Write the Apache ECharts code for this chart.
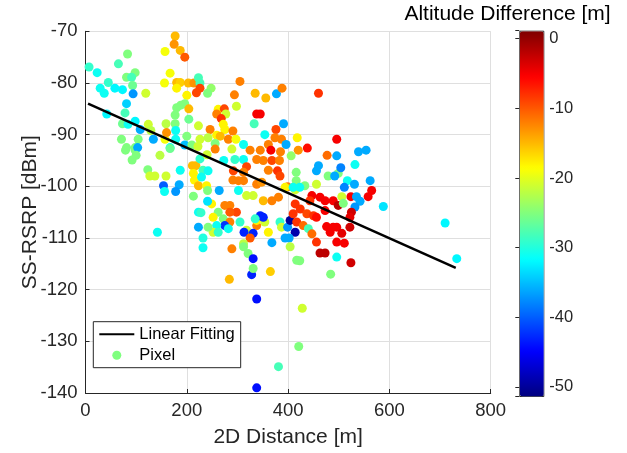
<!DOCTYPE html>
<html><head><meta charset="utf-8">
<script src="https://cdn.jsdelivr.net/npm/echarts@6/dist/echarts.min.js"></script>
<style>html,body{margin:0;padding:0;background:#fff}#c{width:627px;height:453px}</style>
</head><body><div id="c"></div>
<script>
// 2D distance [m]
const distance = [
  7,23,65,83,98,81,91,93,29,45,
  37,58,73,94,119,81,78,42,98,73,
  84,108,124,129,134,71,104,81,98,157,
  159,177,178,160,178,167,177,175,187,196,
  157,167,156,180,187,203,214,180,223,226,
  226,219,248,241,200,196,188,204,180,177,
  204,223,246,200,226,242,196,210,222,
  305,294,335,356,377,388,460,298,262,274,
  259,277,268,272,275,338,345,333,391,376,
  354,418,291,259,266,282,297,256,312,361,
  374,387,396,496,
  256,289,325,345,366,385,420,438,477,273,
  295,312,338,351,368,383,406,460,456,479,
  499,318,292,312,291,302,312,338,348,361,
  379,384,416,416,414,433,456,447,463,473,
  489,499,473,443,399,394,410,423,381,264,
  302,318,331,351,368,249,275,285,298,285,
  262,252,272,285,275,259,252,262,282,305,
  318,338,338,354,361,345,351,335,313,331,
  325,312,312,289,321,331,368,384,387,399,
  404,414,394,402,404,417,423,414,424,437,
  450,456,410,417,430,440,447,456,463,473,
  476,489,483,
  79,98,103,92,100,147,167,123,127,137,
  159,187,154,156,185,178,142,211,218,213,
  215,223,232,229,242,239,241,213,241,223,
  228,242,223,232,232,226,240,
  496,539,554,504,532,517,531,562,511,492,
  588,710,733,565,558,524,506,509,535,542,
  532,525,522,496,506,522,496,511,496,524,
  284,328,331,365,338,381,338,421,428,484
];
// SS-RSRP [dBm]
const rsrp = [
  -76.9,-78,-76.3,-74.4,-78,-78.9,-78.9,-80.5,-81,-79.9,
  -82,-81,-81.3,-82.1,-82,-84,-85.8,-86,-87.4,-87.9,
  -88,-89,-88,-89.2,-90.9,-90.9,-90.9,-92.5,-92.5,-90.9,
  -87.9,-87.9,-89.2,-89.6,-90.9,-92.5,-70.9,-72.5,-73.7,-75,
  -73.9,-78.1,-80,-79.9,-79.9,-80,-80,-81,-79,-80,
  -81,-81.9,-81,-82,-82.4,-84,-84.3,-85,-84.8,-86.2,
  -87,-88.3,-89,-90.3,-90.9,-90.6,-92,-92,-92.3,
  -79.7,-82.3,-82,-82.9,-82.1,-81,-82,-84.5,-85.1,-85,
  -86,-86,-86.9,-88,-89,-86,-86,-87.9,-87.9,-89,
  -90,-90.6,-89.3,-90.1,-90.3,-90.9,-90.9,-91.7,-91.9,-91.9,
  -90.6,-90.9,-91.9,-90.9,
  -92.8,-92.8,-93,-93,-93,-93.3,-93,-92.6,-94,-95,
  -94.8,-94.8,-94.8,-95,-95,-95,-94.1,-96,-97,-98,
  -97.5,-96.2,-97,-97.3,-98.8,-98.9,-98.9,-99.6,-99.2,-96.9,
  -97,-98,-97.3,-98.9,-100.7,-99.9,-99.6,-101.8,-102.1,-102.8,
  -102.8,-103.7,-104.7,-102.8,-100.1,-100.2,-100.2,-100.2,-102.1,-100.8,
  -100.8,-101.8,-101.8,-102.8,-102.8,-103.4,-103.7,-103.7,-105,-105,
  -105,-106,-106.3,-106.9,-107.6,-107.6,-108.9,-108.9,-108.2,-106.9,
  -108.5,-107.6,-106.6,-106.9,-108.9,-105.7,-106,-106.3,-108.9,-109.1,
  -110,-111.1,-111.7,-112.1,-113,-114,-110.9,-106.9,-107.9,-107.9,
  -106.6,-108.9,-110,-110,-111.7,-114.3,-114.4,-103.4,-104.4,-105.3,
  -105.7,-106,-105.3,-106.9,-107.6,-108.2,-109.2,-110.8,-112.9,-112.9,
  -107.8,-107.9,-108.9,
  -93,-93,-92.5,-94.9,-94,-94,-92.7,-96.8,-98,-98,
  -98,-96.9,-99.9,-101,-99.7,-101,-108.9,-96,-96,-97.5,
  -98.8,-99.9,-96.9,-98.2,-97,-99.9,-100.8,-101.9,-102.9,-105,
  -105.1,-107.9,-107.9,-110,-111.9,-94.7,-93.9,
  -94.1,-93.3,-93,-96.4,-95.8,-98.9,-99.6,-98.9,-100.2,-98,
  -103.9,-107.1,-114,-100.8,-102,-102,-102,-103.3,-102,-102.9,
  -104,-105,-106,-107.9,-109.1,-107.9,-110.8,-111,-113.7,-114.8,
  -118,-117.1,-115.9,-116.5,-121.8,-134.9,-139,-131,-123.6,-117
];
// Altitude difference [m]
const altDiff = [
  -29,-31,-28,-25,-25,-25,-28,-26,-31,-29,
  -31,-32,-32,-37,-21,-34,-28,-32,-32,-26,
  -31,-36,-21,-22,-36,-25,-25,-25,-25,-19,
  -22,-25,-31,-13,-31,-31,-15,-13,-15,-10,
  -19,-19,-19,-15,-16,-15,-13,-18,-28,-28,
  -9,-9,-24,-25,-18,-25,-25,-15,-25,-25,
  -26,-21,-12,-25,-21,-22,-35,-25,-21,
  -12,-12,-15,-15,-36,-12,-8,-21,-18,-9,
  -12,-21,-8,-18,-18,-5,-5,-28,-36,-9,
  -31,-18,-12,-18,-15,-12,-19,-25,-31,-12,
  -12,-12,-36,-5,
  -12,-21,-12,-12,-5,-12,-13,-6,-11,-31,
  -29,-31,-12,-12,-9,-12,-24,-36,-36,-25,
  -25,-9,-9,-12,-12,-12,-12,-12,-13,-12,
  -8,-9,-25,-25,-21,-25,-21,-5,-5,-5,
  -5,-2,-5,-8,-12,-18,-31,-31,-12,-36,
  -31,-21,-21,-15,-12,-18,-12,-12,-9,-10,
  -25,-18,-25,-12,-42,-31,-21,-29,-31,-29,
  -21,-12,-18,-21,-18,-43,-43,-29,-43,-43,
  -10,-22,-25,-12,-25,-44,-36,-29,-21,-37,
  -50,-49,-36,-36,-22,-25,-25,-8,-8,-9,
  -8,-6,-8,-8,-11,-28,-11,-8,-2,-2,
  -5,-5,-5,
  -25,-25,-36,-25,-25,-22,-26,-25,-21,-21,
  -21,-31,-40,-31,-36,-37,-31,-15,-15,-18,
  -18,-15,-28,-31,-31,-18,-25,-25,-33,-31,
  -29,-25,-36,-30,-31,-29,-21,
  -36,-36,-36,-38,-31,-31,-36,-36,-38,-36,
  -33,-32,-32,-5,-5,-5,-21,-25,-36,-36,
  -37,-3,-4,-5,-4,-3,-5,-5,-31,-3,
  -15,-43,-25,-16,-44,-28,-44,-25,-21,-25
];
// Linear fit end points
const fitX = [5, 731];
const fitY = [-84.0, -115.8];
// Colour scale range of the colorbar
const cMin = -51.3, cMax = 1.15;

const FONT = "'Liberation Sans', Arial, Helvetica, sans-serif";
const jet = ['#00007F','#0000FF','#007FFF','#00FFFF','#7FFF7F','#FFFF00','#FF7F00','#FF0000','#7F0000'];
const points = distance.map((d, i) => [d, rsrp[i], altDiff[i]]);
const fitData = fitX.map((x, i) => [x, fitY[i]]);
const AX = '#262626';

const chart = echarts.init(document.getElementById('c'), null, {renderer: 'canvas'});
chart.setOption({
  animation: false,
  backgroundColor: '#fff',
  textStyle: {fontFamily: FONT},
  title: {
    text: 'Altitude Difference [m]', left: 507.5, textAlign: 'center', top: 4, padding: 0,
    textStyle: {fontSize: 21, fontWeight: 'normal', color: '#000', fontFamily: FONT}
  },
  grid: [
    {left: 85.5, top: 31.3, width: 405.2, height: 364},
    {left: 519.3, top: 30.7, width: 24, height: 365.3}
  ],
  xAxis: [
    {
      type: 'value', gridIndex: 0, min: 0, max: 800, interval: 200,
      name: '2D Distance [m]', nameLocation: 'middle', nameGap: 34, nameMoveOverlap: false,
      nameTextStyle: {fontSize: 21, color: AX, fontFamily: FONT},
      axisLine: {show: true, onZero: false, lineStyle: {color: AX, width: 1}},
      axisTick: {show: true, inside: true, length: 4, lineStyle: {color: AX}},
      axisLabel: {fontSize: 18.5, color: AX, margin: 8, fontFamily: FONT},
      splitLine: {show: true, lineStyle: {color: '#dfdfdf', width: 1}}
    },
    {type: 'value', gridIndex: 1, show: false, min: 0, max: 1}
  ],
  yAxis: [
    {
      type: 'value', gridIndex: 0, min: -140, max: -70, interval: 10,
      name: 'SS-RSRP [dBm]', nameLocation: 'middle', nameGap: 45, nameRotate: 90, nameMoveOverlap: false,
      nameTextStyle: {fontSize: 21, color: AX, fontFamily: FONT},
      axisLine: {show: true, onZero: false, lineStyle: {color: AX, width: 1}},
      axisTick: {show: true, inside: true, length: 4, lineStyle: {color: AX}},
      axisLabel: {fontSize: 18.5, color: AX, margin: 8, fontFamily: FONT},
      splitLine: {show: true, lineStyle: {color: '#dfdfdf', width: 1}}
    },
    {
      type: 'value', gridIndex: 1, position: 'right', min: cMin, max: cMax,
      axisLine: {show: false},
      axisTick: {show: true, inside: true, length: 4, lineStyle: {color: AX}},
      axisLabel: {
        fontSize: 16.5, color: AX, margin: 6, fontFamily: FONT,
        formatter: v => (Math.abs(v - Math.round(v / 10) * 10) < 1e-6 ? String(Math.round(v)) : '')
      },
      splitLine: {show: false}
    }
  ],
  visualMap: {
    type: 'continuous', seriesIndex: 0, dimension: 2, min: cMin, max: cMax,
    inRange: {color: jet}, orient: 'vertical',
    left: 519.3, top: 30.7, itemWidth: 24, itemHeight: 365.3, padding: 0,
    calculable: false, hoverLink: false,
    borderColor: AX, borderWidth: 1
  },
  legend: {
    left: 93.3, top: 321.7, orient: 'vertical',
    padding: [4, 6, 4, 5], itemGap: 4, itemWidth: 35, itemHeight: 9,
    borderColor: AX, borderWidth: 1, backgroundColor: '#fff',
    selectedMode: false,
    textStyle: {fontSize: 16.5, color: '#000', fontFamily: FONT},
    data: [
      {name: 'Linear Fitting', itemStyle: {color: 'rgba(0,0,0,0)', borderColor: 'rgba(0,0,0,0)', borderWidth: 0, opacity: 0}},
      {name: 'Pixel', icon: 'circle', itemStyle: {color: '#7FFF7F'}}
    ]
  },
  series: [
    {
      name: 'Pixel', type: 'scatter', xAxisIndex: 0, yAxisIndex: 0,
      data: points, symbol: 'circle', symbolSize: 9,
      itemStyle: {color: '#7FFF7F', opacity: 1}, z: 2
    },
    {
      name: 'Linear Fitting', type: 'line', xAxisIndex: 0, yAxisIndex: 0,
      data: fitData, symbol: 'none',
      lineStyle: {color: '#000', width: 2.5}, itemStyle: {color: '#000'}, z: 3
    }
  ]
});
</script>
</body></html>
